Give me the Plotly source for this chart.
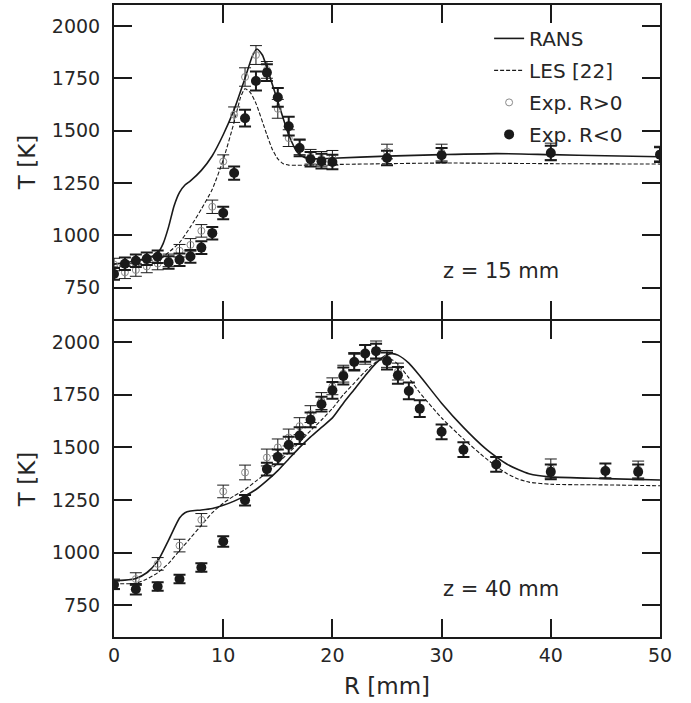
import plotly.graph_objects as go

# ---------------- z = 15 mm ----------------
r15_rans = [0, 1, 2, 3, 4, 4.5, 5, 5.5, 6, 6.5, 7, 8, 9, 10, 11, 12, 12.7, 13.1, 13.6, 14, 15, 16, 16.8, 17.5, 18, 20, 25, 30, 35, 40, 45, 50]
t15_rans = [862, 868, 878, 890, 915, 960, 1040, 1140, 1205, 1240, 1260, 1310, 1380, 1480, 1600, 1750, 1860, 1890, 1860, 1800, 1640, 1480, 1395, 1370, 1365, 1368, 1378, 1385, 1390, 1385, 1380, 1375]

r15_les = [0, 2, 3, 4, 5, 6, 7, 8, 9, 10, 11, 11.6, 12, 12.5, 13, 14, 14.5, 15, 15.5, 16, 20, 30, 40, 50]
t15_les = [848, 855, 865, 880, 918, 965, 1040, 1125, 1220, 1360, 1540, 1660, 1700, 1680, 1630, 1480, 1410, 1365, 1342, 1335, 1338, 1345, 1342, 1340]

r15_pos = [0, 1, 2, 3, 4, 5, 6, 7, 8, 9, 10, 11, 12, 13, 14, 15, 16, 17, 18, 19, 20, 25, 30, 40, 50]
t15_pos = [860, 823, 834, 851, 865, 880, 926, 954, 1021, 1136, 1352, 1576, 1756, 1861, 1790, 1604, 1464, 1420, 1375, 1365, 1370, 1400, 1395, 1400, 1390]
e15_pos = [30, 30, 30, 30, 30, 30, 30, 30, 30, 32, 32, 37, 44, 45, 40, 45, 40, 35, 35, 35, 35, 35, 40, 40, 35]

r15_neg = [0, 1, 2, 3, 4, 5, 6, 7, 8, 9, 10, 11, 12, 13, 14, 15, 16, 17, 18, 19, 20, 25, 30, 40, 50]
t15_neg = [815, 864, 878, 888, 897, 870, 883, 899, 941, 1010, 1106, 1297, 1559, 1737, 1777, 1659, 1521, 1417, 1363, 1354, 1350, 1369, 1382, 1393, 1385]
e15_neg = [28, 30, 30, 30, 30, 30, 30, 30, 30, 30, 30, 32, 40, 45, 40, 45, 45, 40, 35, 35, 35, 35, 35, 35, 35]

# ---------------- z = 40 mm ----------------
r40_rans = [0, 1, 2, 3, 4, 5, 6, 6.5, 7, 8, 9, 10, 11, 12, 13, 14, 15, 16, 17, 18, 19, 20, 21, 22, 23, 24, 25, 25.5, 26, 27, 28, 30, 32, 34, 35, 36, 37, 38, 40, 45, 50]
t40_rans = [868, 870, 878, 905, 960, 1060, 1165, 1190, 1198, 1203, 1210, 1225, 1245, 1270, 1300, 1342, 1390, 1445, 1500, 1550, 1595, 1640, 1710, 1775, 1840, 1900, 1940, 1945, 1938, 1900, 1840, 1710, 1595, 1495, 1455, 1420, 1395, 1375, 1360, 1352, 1345]

r40_les = [0, 2, 3, 4, 5, 6, 7, 8, 9, 10, 11, 12, 13, 14, 15, 16, 17, 18, 19, 20, 21, 22, 23, 24, 24.8, 25.5, 26, 27, 28, 30, 32, 34, 35, 36, 37, 38, 40, 45, 50]
t40_les = [853, 855, 875, 905, 950, 1010, 1070, 1130, 1190, 1235, 1270, 1300, 1340, 1380, 1425, 1475, 1525, 1580, 1630, 1685, 1750, 1805, 1860, 1905, 1925, 1915, 1895, 1830, 1760, 1640, 1540, 1450, 1410, 1375, 1350, 1335, 1325, 1322, 1318]

r40_pos = [0, 2, 4, 6, 8, 10, 12, 14, 15, 16, 17, 18, 19, 20, 21, 22, 23, 24, 25, 26, 40, 48]
t40_pos = [850, 875, 947, 1034, 1156, 1291, 1381, 1452, 1500, 1547, 1601, 1658, 1720, 1790, 1850, 1910, 1940, 1960, 1920, 1860, 1400, 1395]
e40_pos = [25, 30, 30, 30, 30, 30, 35, 40, 40, 40, 40, 40, 40, 40, 40, 40, 45, 45, 40, 40, 45, 40]

r40_neg = [0, 2, 4, 6, 8, 10, 12, 14, 15, 16, 17, 18, 19, 20, 21, 22, 23, 24, 25, 26, 27, 28, 30, 32, 35, 40, 45, 48]
t40_neg = [848, 827, 840, 875, 930, 1053, 1249, 1397, 1455, 1511, 1556, 1631, 1705, 1771, 1839, 1905, 1946, 1957, 1910, 1842, 1768, 1684, 1574, 1489, 1419, 1384, 1388, 1384]
e40_neg = [20, 25, 20, 20, 20, 25, 25, 30, 35, 40, 40, 35, 35, 40, 40, 40, 40, 35, 40, 40, 40, 40, 35, 35, 35, 35, 35, 35]

x_ticks = [0, 10, 20, 30, 40, 50]
y_ticks = [750, 1000, 1250, 1500, 1750, 2000]

INK = "#1a1a1a"
TXT = "#262626"
FONT = "DejaVu Sans"

fig = go.Figure()


def add_panel(xa, ya, r_rans, t_rans, r_les, t_les, r_pos, t_pos, e_pos, r_neg, t_neg, e_neg, show):
    fig.add_trace(go.Scatter(
        x=r_rans, y=t_rans, mode="lines", name="RANS", xaxis=xa, yaxis=ya,
        line=dict(color=INK, width=1.6, shape="spline", smoothing=0.6),
        showlegend=show, legendgroup="rans"))
    fig.add_trace(go.Scatter(
        x=r_les, y=t_les, mode="lines", name="LES [22]", xaxis=xa, yaxis=ya,
        line=dict(color=INK, width=1.1, dash="4px,2px", shape="spline", smoothing=0.6),
        showlegend=show, legendgroup="les"))
    fig.add_trace(go.Scatter(
        x=r_pos, y=t_pos, mode="markers", name="Exp. R>0", xaxis=xa, yaxis=ya,
        marker=dict(symbol="circle-open", size=7, color="#8a8a8a", line=dict(width=1)),
        error_y=dict(type="data", array=e_pos, color=INK, thickness=1, width=6),
        showlegend=show, legendgroup="pos"))
    fig.add_trace(go.Scatter(
        x=r_neg, y=t_neg, mode="markers", name="Exp. R<0", xaxis=xa, yaxis=ya,
        marker=dict(symbol="circle", size=10, color=INK),
        error_y=dict(type="data", array=e_neg, color=INK, thickness=2, width=6),
        showlegend=show, legendgroup="neg"))


add_panel("x", "y", r15_rans, t15_rans, r15_les, t15_les, r15_pos, t15_pos, e15_pos, r15_neg, t15_neg, e15_neg, True)
add_panel("x2", "y2", r40_rans, t40_rans, r40_les, t40_les, r40_pos, t40_pos, e40_pos, r40_neg, t40_neg, e40_neg, False)

axis_common = dict(
    showline=True, linewidth=2, linecolor=INK, mirror="allticks",
    ticks="inside", ticklen=18, tickwidth=2, tickcolor=INK,
    showgrid=False, zeroline=False,
    tickfont=dict(family=FONT, size=19, color=TXT),
)
title_font = dict(family=FONT, size=23, color=TXT)

fig.update_layout(
    width=691, height=703,
    margin=dict(l=114, r=31, t=3, b=66),
    paper_bgcolor="white", plot_bgcolor="white",
    font=dict(family=FONT, color=TXT),
    xaxis=dict(domain=[0, 1], anchor="y", range=[0, 50], tickvals=x_ticks,
               showticklabels=False, **axis_common),
    # upper panel sits just above the lower one so the shared border is a single line
    yaxis=dict(domain=[0.5032, 1], anchor="x", range=[600, 2100], tickvals=y_ticks,
               ticklabelstandoff=8,
               title=dict(text="T [K]", font=title_font, standoff=10),
               **axis_common),
    xaxis2=dict(domain=[0, 1], anchor="y2", range=[0, 50], tickvals=x_ticks,
                ticklabelstandoff=0,
                title=dict(text="R [mm]", font=title_font, standoff=13),
                **axis_common),
    yaxis2=dict(domain=[0, 0.5], anchor="x2", range=[600, 2100], tickvals=y_ticks,
                ticklabelstandoff=8,
                title=dict(text="T [K]", font=title_font, standoff=10),
                **axis_common),
    legend=dict(x=0.687, y=0.978, xanchor="left", yanchor="top",
                bgcolor="rgba(0,0,0,0)", font=dict(family=FONT, size=20, color=TXT),
                tracegroupgap=3),
    showlegend=True,
)

fig.add_annotation(x=35.4, y=827, xref="x", yref="y", text="z = 15 mm", showarrow=False,
                   font=dict(family=FONT, size=21, color=TXT))
fig.add_annotation(x=35.4, y=829, xref="x2", yref="y2", text="z = 40 mm", showarrow=False,
                   font=dict(family=FONT, size=21, color=TXT))

fig.write_html("out.html")
